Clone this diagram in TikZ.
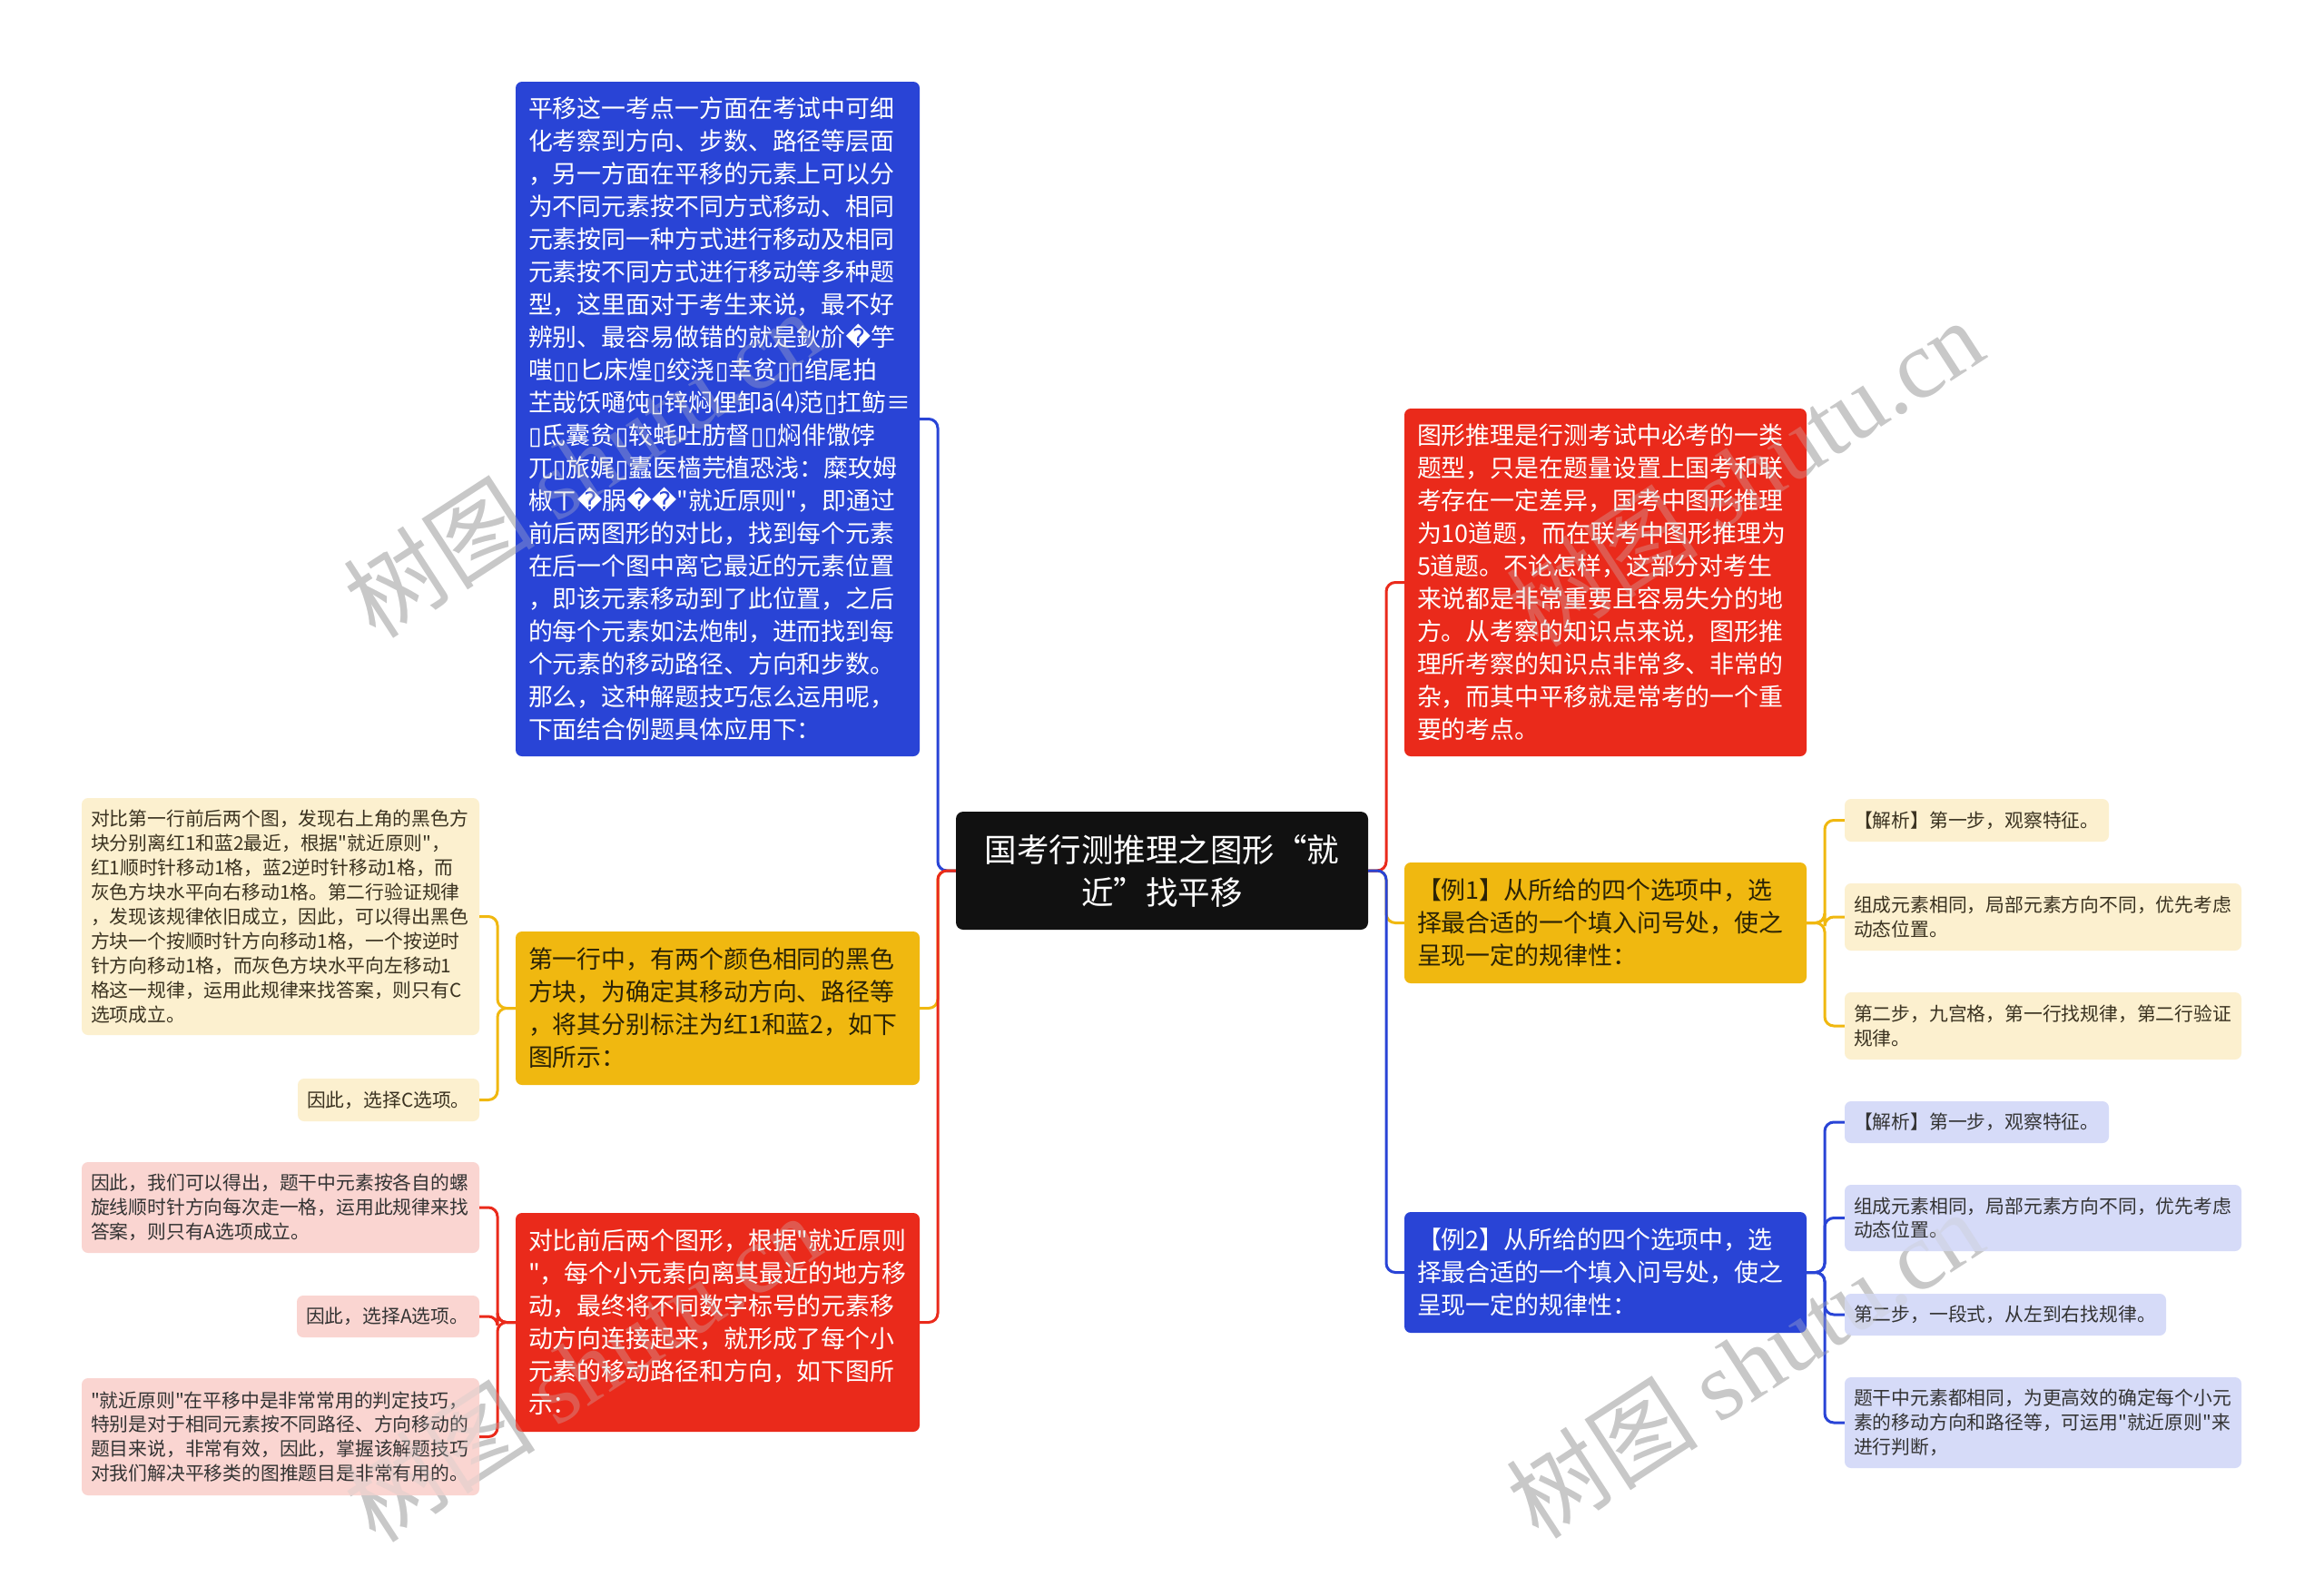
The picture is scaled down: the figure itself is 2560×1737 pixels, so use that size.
\documentclass[tikz,border=0pt]{standalone}
\usepackage{fontspec}
\setmainfont{Noto Sans CJK SC}
\newfontfamily\cjk{Noto Sans CJK SC}
\newfontfamily\dvfont{DejaVu Sans}
\newfontfamily\wmlat{Liberation Serif}
\newcommand\mjb{{\dvfont ▯}}
\newcommand\mjq{{\dvfont �}}
\newcommand\fbig{\cjk\fontsize{26.9}{36}\selectfont}
\newcommand\fsml{\cjk\fontsize{20.8}{26.9}\selectfont}
\newcommand\froot{\cjk\fontsize{35.5}{47}\selectfont}
\definecolor{cblue}{HTML}{2944D6}
\definecolor{cred}{HTML}{EA2A1B}
\definecolor{cyel}{HTML}{F0B810}
\definecolor{lyel}{HTML}{FCF0CF}
\definecolor{lpink}{HTML}{FAD5D1}
\definecolor{lblu}{HTML}{D6DBF8}
\definecolor{tyel}{HTML}{2B2306}
\definecolor{tlyel}{HTML}{3A3220}
\definecolor{tdark}{HTML}{333333}
\definecolor{croot}{HTML}{111111}
\definecolor{wmgray}{HTML}{C8C8C8}
\tikzset{
  nb/.style={rectangle, rounded corners=7pt, inner xsep=14pt, inner ysep=0pt, align=left, font=\fbig},
  ns/.style={rectangle, rounded corners=7pt, inner xsep=10pt, inner ysep=0pt, align=left, font=\fsml},
  fblue/.style={nb, fill=cblue, text=white},
  fred/.style={nb, fill=cred, text=white},
  fyel/.style={nb, fill=cyel, text=tyel},
  nlyel/.style={ns, fill=lyel, text=tlyel},
  npink/.style={ns, fill=lpink, text=tdark},
  nlblu/.style={ns, fill=lblu, text=tdark},
  con/.style={line width=3pt, rounded corners=10pt},
  wm/.style={text=wmgray, font=\cjk\fontsize{106}{110}\selectfont, rotate=33},
  wmtop/.style={wm, text opacity=0.3},
}
\begin{document}
\begin{tikzpicture}[x=1pt,y=-1pt]
\useasboundingbox (0,0) rectangle (2560,1737);
\fill[white] (0,0) rectangle (2560,1737);

% watermarks (beneath)
\node[wm] (w1) at (641,510) {树图 {\wmlat shutu.cn}};
\node[wm] (w2) at (1922,520) {树图 {\wmlat shutu.cn}};
\node[wm] (w3) at (641,1506) {树图 {\wmlat shutu.cn}};
\node[wm] (w4) at (1922,1502) {树图 {\wmlat shutu.cn}};

% root
\node[rectangle, rounded corners=8pt, fill=croot, text=white, font=\froot, align=center,
  minimum width=454pt, minimum height=130pt, inner sep=0pt] (root) at (1280,959)
  {国考行测推理之图形“就\\近”找平移};

% left main
\node[fblue, text width=417pt, minimum height=743pt] (L1) at (790.5,461.5) {%
平移这一考点一方面在考试中可细\\
化考察到方向、步数、路径等层面\\
，另一方面在平移的元素上可以分\\
为不同元素按不同方式移动、相同\\
元素按同一种方式进行移动及相同\\
元素按不同方式进行移动等多种题\\
型，这里面对于考生来说，最不好\\
辨别、最容易做错的就是鈥斺\mjq 竽\\
嗤\mjb\mjb 匕床煌\mjb 绞浇\mjb 幸贫\mjb\mjb 绾尾拍\\
芏哉饫嗵饨\mjb 锌焖俚卸ā⑷范\mjb 扛鲂≡\\
\mjb 氐囊贫\mjb 较蚝吐肪督\mjb\mjb 焖俳馓饽\\
兀\mjb 旅娓\mjb 蠹医樯芫植恐浅：糜玫姆\\
椒ㄒ\mjq 脶\mjq\mjq "就近原则"，即通过\\
前后两图形的对比，找到每个元素\\
在后一个图中离它最近的元素位置\\
，即该元素移动到了此位置，之后\\
的每个元素如法炮制，进而找到每\\
个元素的移动路径、方向和步数。\\
那么，这种解题技巧怎么运用呢，\\
下面结合例题具体应用下：};

\node[fyel, text width=417pt, minimum height=169pt] (L2) at (790.5,1110.5) {%
第一行中，有两个颜色相同的黑色\\
方块，为确定其移动方向、路径等\\
，将其分别标注为红1和蓝2，如下\\
图所示：};

\node[fred, text width=417pt, minimum height=241pt] (L3) at (790.5,1456.5) {%
对比前后两个图形，根据"就近原则\\
"，每个小元素向离其最近的地方移\\
动，最终将不同数字标号的元素移\\
动方向连接起来，就形成了每个小\\
元素的移动路径和方向，如下图所\\
示：};

% left sub
\node[nlyel, text width=418pt, minimum height=261pt] (L2a) at (309,1009.5) {%
对比第一行前后两个图，发现右上角的黑色方\\
块分别离红1和蓝2最近，根据"就近原则"，\\
红1顺时针移动1格，蓝2逆时针移动1格，而\\
灰色方块水平向右移动1格。第二行验证规律\\
，发现该规律依旧成立，因此，可以得出黑色\\
方块一个按顺时针方向移动1格，一个按逆时\\
针方向移动1格，而灰色方块水平向左移动1\\
格这一规律，运用此规律来找答案，则只有C\\
选项成立。};
\node[nlyel, text width=180pt, minimum height=47pt] (L2b) at (428,1211.5) {因此，选择C选项。};

\node[npink, text width=418pt, minimum height=100pt] (L3a) at (309,1330) {%
因此，我们可以得出，题干中元素按各自的螺\\
旋线顺时针方向每次走一格，运用此规律来找\\
答案，则只有A选项成立。};
\node[npink, text width=181pt, minimum height=46pt] (L3b) at (427.5,1450) {因此，选择A选项。};
\node[npink, text width=418pt, minimum height=129pt] (L3c) at (309,1582.5) {%
"就近原则"在平移中是非常常用的判定技巧，\\
特别是对于相同元素按不同路径、方向移动的\\
题目来说，非常有效，因此，掌握该解题技巧\\
对我们解决平移类的图推题目是非常有用的。};

% right main
\node[fred, text width=415pt, minimum height=383pt] (R1) at (1768.5,641.5) {%
图形推理是行测考试中必考的一类\\
题型，只是在题量设置上国考和联\\
考存在一定差异，国考中图形推理\\
为10道题，而在联考中图形推理为\\
5道题。不论怎样，这部分对考生\\
来说都是非常重要且容易失分的地\\
方。从考察的知识点来说，图形推\\
理所考察的知识点非常多、非常的\\
杂，而其中平移就是常考的一个重\\
要的考点。};
\node[fyel, text width=415pt, minimum height=133pt] (R2) at (1768.5,1016.5) {%
【例1】从所给的四个选项中，选\\
择最合适的一个填入问号处，使之\\
呈现一定的规律性：};
\node[fblue, text width=415pt, minimum height=133pt] (R3) at (1768.5,1401.5) {%
【例2】从所给的四个选项中，选\\
择最合适的一个填入问号处，使之\\
呈现一定的规律性：};

% right sub
\node[nlyel, text width=271pt, minimum height=47pt] (R2a) at (2177.5,903.5) {【解析】第一步，观察特征。};
\node[nlyel, text width=417pt, minimum height=74pt] (R2b) at (2250.5,1010) {组成元素相同，局部元素方向不同，优先考虑\\动态位置。};
\node[nlyel, text width=417pt, minimum height=74pt] (R2c) at (2250.5,1130) {第二步，九宫格，第一行找规律，第二行验证\\规律。};
\node[nlblu, text width=271pt, minimum height=46pt] (R3a) at (2177.5,1236) {【解析】第一步，观察特征。};
\node[nlblu, text width=417pt, minimum height=73pt] (R3b) at (2250.5,1341.5) {组成元素相同，局部元素方向不同，优先考虑\\动态位置。};
\node[nlblu, text width=334pt, minimum height=46pt] (R3c) at (2209,1448) {第二步，一段式，从左到右找规律。};
\node[nlblu, text width=417pt, minimum height=100pt] (R3d) at (2250.5,1567) {题干中元素都相同，为更高效的确定每个小元\\素的移动方向和路径等，可运用"就近原则"来\\进行判断，};

% junctions
\coordinate (jl) at (1033,959);
\coordinate (jr) at (1527,959);
\coordinate (j2) at (548,1110.5);
\coordinate (j3) at (548,1456.5);
\coordinate (k2) at (2010,1016.5);
\coordinate (k3) at (2010,1401.5);

% connectors from root
\draw[con, cyel] (root.west) -- (jl) |- (L2.east);
\draw[con, cblue] (root.west) -- (jl) |- (L1.east);
\draw[con, cred] (root.west) -- (jl) |- (L3.east);
\draw[con, cyel] (root.east) -- (jr) |- (R2.west);
\draw[con, cred] (root.east) -- (jr) |- (R1.west);
\draw[con, cblue] (root.east) -- (jr) |- (R3.west);

% sub connectors
\draw[con, cyel] (L2.west) -- (j2) |- (L2a.east);
\draw[con, cyel] (L2.west) -- (j2) |- (L2b.east);
\draw[con, cred] (L3.west) -- (j3) |- (L3a.east);
\draw[con, cred] (L3.west) -- (j3) |- (L3b.east);
\draw[con, cred] (L3.west) -- (j3) |- (L3c.east);
\draw[con, cyel] (R2.east) -- (k2) |- (R2a.west);
\draw[con, cyel] (R2.east) -- (k2) |- (R2b.west);
\draw[con, cyel] (R2.east) -- (k2) |- (R2c.west);
\draw[con, cblue] (R3.east) -- (k3) |- (R3a.west);
\draw[con, cblue] (R3.east) -- (k3) |- (R3b.west);
\draw[con, cblue] (R3.east) -- (k3) |- (R3c.west);
\draw[con, cblue] (R3.east) -- (k3) |- (R3d.west);

% faint watermark traces over the boxes
\node[wmtop] (t1) at (641,510) {树图 {\wmlat shutu.cn}};
\node[wmtop] (t2) at (1922,520) {树图 {\wmlat shutu.cn}};
\node[wmtop] (t3) at (641,1506) {树图 {\wmlat shutu.cn}};
\node[wmtop] (t4) at (1922,1502) {树图 {\wmlat shutu.cn}};
\end{tikzpicture}
\end{document}
